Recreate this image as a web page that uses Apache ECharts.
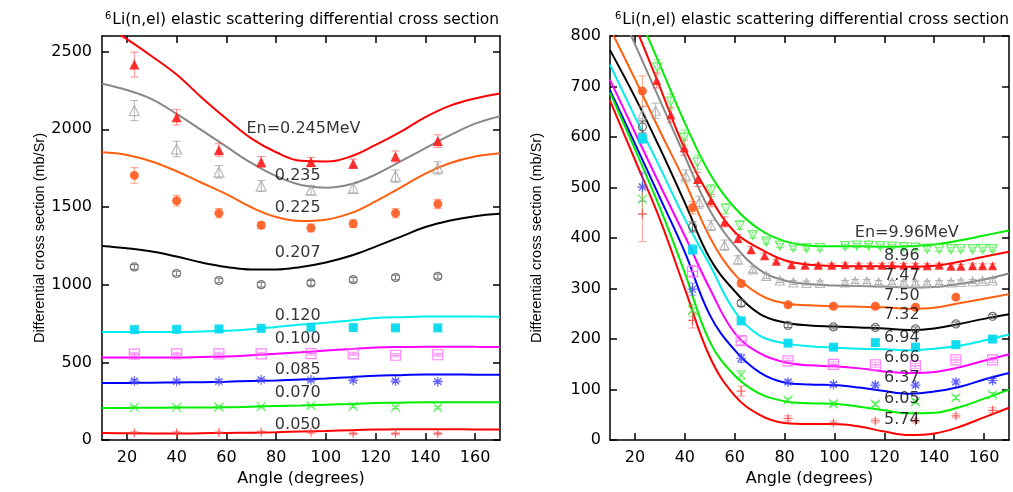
<!DOCTYPE html>
<html><head><meta charset="utf-8">
<script src="https://cdn.jsdelivr.net/npm/echarts@6/dist/echarts.min.js"></script>
<style>html,body{margin:0;padding:0;background:#fff}#c{width:1013px;height:492px}</style>
</head><body><div id="c"></div>
<script>
// ---------- data ----------
const CURVE_ANG = [10,20,30,40,50,60,70,80,90,100,110,120,130,140,150,160,170];
const X_TICKS = [20,40,60,80,100,120,140,160];
const L_Y_TICKS = [0,500,1000,1500,2000,2500];
const R_Y_TICKS = [0,100,200,300,400,500,600,700,800];
const TITLE_SUP = '6';
const TITLE_TXT = 'Li(n,el) elastic scattering differential cross section';

// left panel
const L_ANG = [23,40,57,74,94,111,128,145];
const L245_CURVE = [2680,2580,2470,2352,2205,2068,1941,1852,1797,1793,1825,1899,1983,2078,2152,2198,2230];
const L235_CURVE = [2293,2253,2194,2099,1994,1888,1783,1698,1641,1624,1646,1709,1793,1878,1962,2036,2084];
const L225_CURVE = [1852,1835,1793,1730,1656,1582,1498,1435,1409,1418,1460,1536,1624,1715,1783,1825,1846];
const L207_CURVE = [1249,1234,1213,1181,1143,1114,1097,1097,1114,1143,1186,1245,1308,1371,1413,1441,1456];
const L120_CURVE = [696,696,696,696,699,703,713,728,743,755,770,785,791,795,795,795,793];
const L100_CURVE = [532,532,532,532,535,538,546,555,565,576,586,595,599,601,601,600,599];
const L085_CURVE = [367,368,369,371,373,376,380,384,390,397,405,414,418,422,422,421,420];
const L070_CURVE = [207,207,208,209,210,211,215,219,223,228,233,238,241,243,243,243,243];
const L050_CURVE = [46,44,43,42,44,46,48,51,55,59,64,68,70,70,70,69,68];

const L245_DATA = [2416,2078,1867,1789,1789,1778,1825,1924];
const L245_ERR  = [80,50,40,35,30,30,35,40];
const L235_DATA = [2120,1873,1726,1635,1608,1620,1698,1751];
const L235_ERR  = [65,50,40,35,30,30,40,40];
const L225_DATA = [1703,1540,1460,1382,1365,1392,1460,1519];
const L225_ERR  = [50,35,30,20,25,25,30,30];
const L207_DATA = [1114,1072,1027,1000,1011,1032,1046,1053];
const L207_ERR  = [15,15,15,15,15,15,15,15];
const L120_DATA = [711,713,715,719,726,724,722,722];
const L120_ERR  = [8,8,8,8,8,8,8,8];
const L100_DATA = [553,555,555,555,557,555,546,549];
const L100_ERR  = [10,10,10,10,10,10,10,10];
const L085_DATA = [380,378,378,388,386,384,380,376];
const L085_ERR  = [10,10,10,10,10,10,10,10];
const L070_DATA = [211,211,213,215,222,217,211,209];
const L070_ERR  = [8,8,8,8,8,8,8,8];
const L050_DATA = [46,46,49,51,51,42,42,42];
const L050_ERR  = [8,8,8,8,8,8,8,8];

const L_LABELS  = ['En=0.245MeV','0.235','0.225','0.207','0.120','0.100','0.085','0.070','0.050'];
const L_LABEL_X = [91,88.7,88.7,88.7,88.7,88.7,88.7,88.7,88.7];
const L_LABEL_Y = [2004,1700,1497,1202,802,650,449,306,101];

// right panel
const R574_CURVE = [672,555,437,300,165,88,50,34,32,32,27,17,10,13,26,45,64];
const R605_CURVE = [688,576,460,331,195,128,92,77,73,72,66,59,53,54,65,82,100];
const R637_CURVE = [693,587,480,372,248,178,134,114,110,109,104,97,92,96,105,120,133];
const R666_CURVE = [713,609,505,404,300,212,172,154,148,146,142,136,133,135,144,157,170];
const R694_CURVE = [743,640,540,438,347,255,207,192,186,183,181,180,178,181,187,197,209];
const R732_CURVE = [772,679,578,470,360,295,250,233,227,225,223,221,218,221,230,240,249];
const R750_CURVE = [815,715,612,512,402,328,288,271,267,265,264,263,260,262,271,280,289];
const R747_CURVE = [895,784,673,562,455,385,337,316,309,306,305,304,302,303,309,318,330];
const R896_CURVE = [943,821,699,576,482,412,379,356,347,345,344,344,343,345,353,363,373];
const R996_CURVE = [970,857,743,628,528,460,417,394,385,384,384,383,384,387,395,405,415];

const R_ANG = [23,43.1,62.6,81.4,99.6,116.4,132.5,148.7,163.4];
const R574_DATA = [448,237,97,43,34,38,38,48,59];
const R574_ERR  = [55,15,10,5,4,4,4,4,5];
const R605_DATA = [477,257,129,79,72,71,76,84,90];
const R605_ERR  = [30,12,8,4,4,4,4,4,4];
const R637_DATA = [501,299,162,115,110,109,109,115,118];
const R637_ERR  = [28,12,8,4,4,4,4,4,4];
const R666_ANG  = [43.1,62.6,81.4,99.6,116.4,132.5,148.7,163.4];
const R666_DATA = [334,197,157,150,149,147,159,159];
const R666_ERR  = [12,8,5,5,5,5,5,5];
const R694_DATA = [597,377,236,192,184,193,184,189,200];
const R694_ERR  = [10,10,6,4,4,4,4,4,4];
const R732_DATA = [620,422,271,227,224,223,220,230,245];
const R732_ERR  = [12,10,6,4,4,4,4,4,4];
const R750_ANG  = [23,43.1,62.6,81.4,99.6,116.4,132.5,148.7];
const R750_DATA = [691,460,310,268,265,265,263,283];
const R750_ERR  = [30,12,6,4,4,4,4,4];
const R747_ANG  = [23,28.3,40.4,45.8,50.5,55.9,61.3,67.3,72.7,78.1,83.5,88.8,94.2,104.3,108.3,113,117.7,123.1,127.8,132.5,137.2,142,146.7,150.7,155.4,159.4,163.4];
const R747_DATA = [645,652,523,471,425,386,357,338,325,316,312,311,311,312,314,314,312,312,311,311,311,312,312,313,314,315,316];
const R747_ERR  = [15,15,12,12,10,10,8,6,5,4,4,4,4,4,4,4,4,4,4,4,4,4,4,4,4,4,4];
const R896_ANG  = [28.7,34.4,39.8,45.1,50.5,55.9,61.3,66.6,72,76.7,82.8,88.2,93.5,98.9,104.3,109.7,114.4,119.1,123.1,127.8,132.5,137.2,142,146.7,150.7,155.4,159.4,163.4];
const R896_DATA = [712,644,579,516,474,432,399,377,365,354,347,346,346,346,347,346,346,346,347,346,346,345,346,344,344,345,345,345];
const R896_ERR  = [15,15,15,14,12,10,8,6,5,4,4,4,4,4,4,4,4,4,4,4,4,4,4,4,4,4,4,4];
const R996_ANG  = [29,34.4,39.8,45.1,50.5,56.5,62,67.3,72.7,78.1,83.5,88.8,94.2,104.3,109,113.7,118.4,123.1,127.8,132.5,137.2,142,146.7,150.7,155.4,159.4,163.4];
const R996_DATA = [738,670,599,550,494,458,425,406,393,385,381,380,380,384,385,385,384,383,382,381,379,378,378,378,378,378,378];
const R996_ERR  = [15,15,15,14,12,10,8,6,5,4,4,4,4,4,4,4,4,4,4,4,4,4,4,4,4,4,4];

const R_LABELS  = ['En=9.96MeV','8.96','7.47','7.50','7.32','6.94','6.66','6.37','6.05','5.74'];
const R_LABEL_X = [129,127,127,127,127,127,127,127,127,127];
const R_LABEL_Y = [410,365,325,286,247,203,162,124,81,40];

// ---------- styles ----------
const SYM = {
  tri: 'triangle',
  dtri: 'path://M0,0L10,0L5,9Z',
  circ: 'circle',
  rect: 'rect',
  rectLine: 'path://M0,0L10,0L10,10L0,10Z M0,5L10,5',
  star: 'path://M5,0L5,10M0,5L10,5M1.5,1.5L8.5,8.5M8.5,1.5L1.5,8.5',
  cross: 'path://M0,0L10,10M10,0L0,10',
  plus: 'path://M5,0L5,10M0,5L10,5'
};
const LEFT_SETS = [
  {curve:L245_CURVE, ang:L_ANG, data:L245_DATA, err:L245_ERR, line:'#ff0000', mk:'#ff1a1a', eb:'rgba(255,60,60,0.6)', sym:SYM.tri, filled:true, size:10},
  {curve:L235_CURVE, ang:L_ANG, data:L235_DATA, err:L235_ERR, line:'#888888', mk:'#a8a8a8', eb:'rgba(150,150,150,0.7)', sym:SYM.tri, filled:false, size:10},
  {curve:L225_CURVE, ang:L_ANG, data:L225_DATA, err:L225_ERR, line:'#ff6010', mk:'#ff5a1f', eb:'rgba(255,100,50,0.6)', sym:SYM.circ, filled:true, size:9},
  {curve:L207_CURVE, ang:L_ANG, data:L207_DATA, err:L207_ERR, line:'#000000', mk:'#555555', eb:'#777777', sym:SYM.circ, filled:false, size:8},
  {curve:L120_CURVE, ang:L_ANG, data:L120_DATA, err:L120_ERR, line:'#00eeee', mk:'#00d8ee', eb:'rgba(0,220,240,0.6)', sym:SYM.rect, filled:true, size:9},
  {curve:L100_CURVE, ang:L_ANG, data:L100_DATA, err:L100_ERR, line:'#ff00ff', mk:'#ff66ff', eb:'rgba(255,100,255,0.6)', sym:SYM.rectLine, filled:false, size:10},
  {curve:L085_CURVE, ang:L_ANG, data:L085_DATA, err:L085_ERR, line:'#0000ff', mk:'#4444ff', eb:'rgba(70,70,255,0.6)', sym:SYM.star, filled:false, size:10},
  {curve:L070_CURVE, ang:L_ANG, data:L070_DATA, err:L070_ERR, line:'#00ee00', mk:'#33ee33', eb:'rgba(50,230,50,0.6)', sym:SYM.cross, filled:false, size:9},
  {curve:L050_CURVE, ang:L_ANG, data:L050_DATA, err:L050_ERR, line:'#ff0000', mk:'#ff4444', eb:'rgba(255,90,90,0.6)', sym:SYM.plus, filled:false, size:9}
];
const RIGHT_SETS = [
  {curve:R996_CURVE, ang:R996_ANG, data:R996_DATA, err:R996_ERR, line:'#00ee00', mk:'#44ee44', eb:'rgba(60,230,60,0.6)', sym:SYM.dtri, filled:false, size:9},
  {curve:R896_CURVE, ang:R896_ANG, data:R896_DATA, err:R896_ERR, line:'#ff0000', mk:'#ff1a1a', eb:'rgba(255,60,60,0.6)', sym:SYM.tri, filled:true, size:9},
  {curve:R747_CURVE, ang:R747_ANG, data:R747_DATA, err:R747_ERR, line:'#888888', mk:'#a8a8a8', eb:'rgba(150,150,150,0.7)', sym:SYM.tri, filled:false, size:9},
  {curve:R750_CURVE, ang:R750_ANG, data:R750_DATA, err:R750_ERR, line:'#ff6010', mk:'#ff5a1f', eb:'rgba(255,100,50,0.6)', sym:SYM.circ, filled:true, size:9},
  {curve:R732_CURVE, ang:R_ANG, data:R732_DATA, err:R732_ERR, line:'#000000', mk:'#555555', eb:'#777777', sym:SYM.circ, filled:false, size:8},
  {curve:R694_CURVE, ang:R_ANG, data:R694_DATA, err:R694_ERR, line:'#00eeee', mk:'#00d8ee', eb:'rgba(0,220,240,0.6)', sym:SYM.rect, filled:true, size:9},
  {curve:R666_CURVE, ang:R666_ANG, data:R666_DATA, err:R666_ERR, line:'#ff00ff', mk:'#ff66ff', eb:'rgba(255,100,255,0.6)', sym:SYM.rectLine, filled:false, size:10},
  {curve:R637_CURVE, ang:R_ANG, data:R637_DATA, err:R637_ERR, line:'#0000ff', mk:'#4444ff', eb:'rgba(70,70,255,0.6)', sym:SYM.star, filled:false, size:10},
  {curve:R605_CURVE, ang:R_ANG, data:R605_DATA, err:R605_ERR, line:'#00ee00', mk:'#33ee33', eb:'rgba(50,230,50,0.6)', sym:SYM.cross, filled:false, size:9},
  {curve:R574_CURVE, ang:R_ANG, data:R574_DATA, err:R574_ERR, line:'#ff0000', mk:'#ff4444', eb:'rgba(255,90,90,0.6)', sym:SYM.plus, filled:false, size:9}
];

const FONT = 'DejaVu Sans';
function errRender(params, api) {
  const x = api.value(0), y = api.value(1), e = api.value(2);
  const p1 = api.coord([x, y + e]), p2 = api.coord([x, y - e]);
  const w = 4;
  const style = {stroke: api.visual('color'), lineWidth: 1, fill: null};
  return {type: 'group', children: [
    {type: 'line', shape: {x1: p1[0], y1: p1[1], x2: p2[0], y2: p2[1]}, style: style},
    {type: 'line', shape: {x1: p1[0]-w, y1: p1[1], x2: p1[0]+w, y2: p1[1]}, style: style},
    {type: 'line', shape: {x1: p2[0]-w, y1: p2[1], x2: p2[0]+w, y2: p2[1]}, style: style}
  ]};
}

function buildSeries(sets, idx, labels, lx, ly) {
  const out = [];
  sets.forEach(s => {
    out.push({type: 'line', xAxisIndex: idx*2, yAxisIndex: idx*2, data: CURVE_ANG.map((a,i) => [a, s.curve[i]]),
      smooth: 0.4, showSymbol: false, symbol: 'none', lineStyle: {color: s.line, width: 2}, z: 3, clip: true, silent: true});
    out.push({type: 'custom', xAxisIndex: idx*2, yAxisIndex: idx*2, renderItem: errRender,
      data: s.ang.map((a,i) => [a, s.data[i], s.err[i]]), itemStyle: {color: s.eb}, z: 4, clip: true, silent: true,
      encode: {x: 0, y: 1}});
    out.push({type: 'scatter', xAxisIndex: idx*2, yAxisIndex: idx*2, data: s.ang.map((a,i) => [a, s.data[i]]),
      symbol: s.sym, symbolSize: s.size, z: 5, silent: true, clip: true,
      itemStyle: s.filled ? {color: s.mk, opacity: 0.9} : {color: 'rgba(0,0,0,0)', borderColor: s.mk, borderWidth: 1.2}});
  });
  out.push({type: 'scatter', xAxisIndex: idx*2, yAxisIndex: idx*2, silent: true, z: 10,
    data: labels.map((t,i) => ({name: t, value: [lx[i], ly[i]]})),
    symbol: 'circle', symbolSize: 1, itemStyle: {color: 'rgba(0,0,0,0)'},
    label: {show: true, position: 'inside', formatter: p => p.name, color: '#000', fontFamily: FONT, fontSize: 16}});
  return out;
}

function xAxes(g) {
  const common = {type: 'value', gridIndex: g, min: 10, max: 170, splitLine: {show: false},
    axisLine: {show: true, onZero: false, lineStyle: {color: '#000', width: 1.5}}};
  return [
    Object.assign({}, common, {position: 'bottom',
      axisTick: {show: true, inside: true, length: 7, customValues: X_TICKS, lineStyle: {color: '#000', width: 1.5}},
      axisLabel: {show: true, customValues: X_TICKS, margin: 10, color: '#000', fontFamily: FONT, fontSize: 16, formatter: v => String(v)},
      name: 'Angle (degrees)', nameLocation: 'middle', nameGap: 26,
      nameTextStyle: {color: '#000', fontFamily: FONT, fontSize: 16}}),
    Object.assign({}, common, {position: 'top',
      axisTick: {show: true, inside: true, length: 7, customValues: X_TICKS, lineStyle: {color: '#000', width: 1.5}},
      axisLabel: {show: false}})
  ];
}
function yAxes(g, max, ticks, gap, margin) {
  const common = {type: 'value', gridIndex: g, min: 0, max: max, splitLine: {show: false},
    axisLine: {show: true, onZero: false, lineStyle: {color: '#000', width: 1.5}}};
  return [
    Object.assign({}, common, {position: 'left',
      axisTick: {show: true, inside: true, length: 7, customValues: ticks, lineStyle: {color: '#000', width: 1.5}},
      axisLabel: {show: true, customValues: ticks, margin: margin, color: '#000', fontFamily: FONT, fontSize: 16, formatter: v => String(v)},
      name: 'Differential cross section (mb/Sr)', nameLocation: 'middle', nameGap: gap, nameRotate: 90,
      nameTextStyle: {color: '#000', fontFamily: 'Liberation Sans', fontSize: 14.5}}),
    Object.assign({}, common, {position: 'right',
      axisTick: {show: true, inside: true, length: 7, customValues: ticks, lineStyle: {color: '#000', width: 1.5}},
      axisLabel: {show: false}})
  ];
}

const titleRich = {s: {fontFamily: FONT, fontSize: 10, fontWeight: 'normal', verticalAlign: 'top', color: '#000', padding: [0,1,8,0]},
                   t: {fontFamily: FONT, fontSize: 15.5, fontWeight: 'normal', color: '#000'}};
const chart = echarts.init(document.getElementById('c'), null, {renderer: 'canvas'});
chart.setOption({
  animation: false,
  backgroundColor: '#fff',
  title: [
    {left: 100, top: 6, text: '{s|' + TITLE_SUP + '}{t|' + TITLE_TXT + '}', textStyle: {fontWeight: 'normal', rich: titleRich}},
    {left: 610, top: 6, text: '{s|' + TITLE_SUP + '}{t|' + TITLE_TXT + '}', textStyle: {fontWeight: 'normal', rich: titleRich}}
  ],
  grid: [
    {left: 102, top: 36, width: 398, height: 411},
    {left: 610, top: 36, width: 399, height: 411}
  ],
  xAxis: [].concat(xAxes(0), xAxes(1)),
  yAxis: [].concat(yAxes(0, 2600, L_Y_TICKS, 52, 10), yAxes(1, 800, R_Y_TICKS, 66, 9)),
  series: [].concat(buildSeries(LEFT_SETS, 0, L_LABELS, L_LABEL_X, L_LABEL_Y),
                    buildSeries(RIGHT_SETS, 1, R_LABELS, R_LABEL_X, R_LABEL_Y))
});
</script></body></html>
